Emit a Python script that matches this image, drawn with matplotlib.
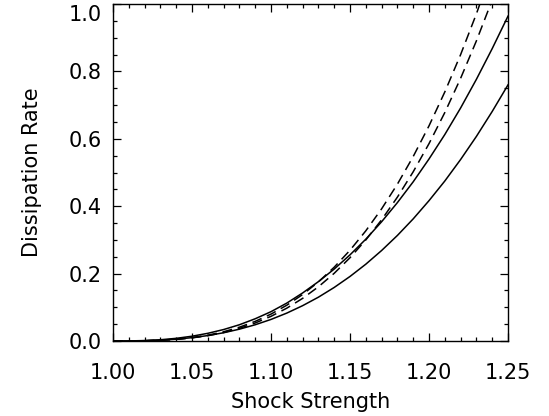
import numpy as np
import matplotlib
matplotlib.use("Agg")
import matplotlib.pyplot as plt
from matplotlib.ticker import MultipleLocator
from matplotlib.transforms import ScaledTranslation

# Shock strength samples
shock = [1.00, 1.01, 1.02, 1.03, 1.04, 1.05, 1.06, 1.07, 1.08, 1.09, 1.10,
         1.11, 1.12, 1.13, 1.14, 1.15, 1.16, 1.17, 1.18, 1.19, 1.20,
         1.21, 1.22, 1.23, 1.24, 1.25]

# Solid curves
solid_upper = [0.0, 0.0002, 0.0013, 0.0037, 0.0079, 0.0142, 0.0228, 0.0340, 0.0482,
               0.0660, 0.0870, 0.1125, 0.1425, 0.1761, 0.2135, 0.2556, 0.3021,
               0.3538, 0.4107, 0.4724, 0.5401, 0.6126, 0.6914, 0.7765, 0.8676, 0.964]
solid_lower = [0.0, 0.0001, 0.0008, 0.0025, 0.0054, 0.0099, 0.0161, 0.0245, 0.0351,
               0.0482, 0.0640, 0.0828, 0.1048, 0.1300, 0.1589, 0.1915, 0.2279,
               0.2685, 0.3132, 0.3624, 0.4164, 0.4747, 0.5385, 0.6071, 0.6811, 0.760]

# Dashed curves
dashed_a = [0.0, 0.0001, 0.0006, 0.0022, 0.0051, 0.0100, 0.0172, 0.0274, 0.0409,
            0.0582, 0.0798, 0.1062, 0.1379, 0.1753, 0.2190, 0.2693, 0.3269,
            0.3921, 0.4654, 0.5474, 0.6384, 0.7390, 0.8497, 0.9709, 1.1032, 1.2469]
dashed_b = [0.0, 0.0001, 0.0006, 0.0020, 0.0047, 0.0092, 0.0158, 0.0251, 0.0375,
            0.0534, 0.0732, 0.0974, 0.1265, 0.1608, 0.2009, 0.2471, 0.2998,
            0.3596, 0.4269, 0.5021, 0.5856, 0.6779, 0.7794, 0.8906, 1.0119, 1.1438]

xticks = [1.00, 1.05, 1.10, 1.15, 1.20, 1.25]
yticks = [0.0, 0.2, 0.4, 0.6, 0.8, 1.0]

plt.rcParams['font.family'] = ['DejaVu Sans']

fig = plt.figure(figsize=(5.49, 4.16), dpi=100)
ax = fig.add_axes([113/549, 1 - 341/416, (508-113)/549, (341-4)/416])

lw = 1.1
ax.plot(shock, solid_upper, color='black', lw=lw)
ax.plot(shock, solid_lower, color='black', lw=lw)
la, = ax.plot(shock, dashed_a, color='black', lw=lw)
lb, = ax.plot(shock, dashed_b, color='black', lw=lw)
la.set_dashes([6.5, 3.8])
lb.set_dashes([6.5, 3.8])

ax.set_xlim(1.0, 1.25)
ax.set_ylim(0.0, 1.0)
ax.set_xticks(xticks)
ax.set_xticklabels([f"{t:.2f}" for t in xticks])
ax.set_yticks(yticks)
ax.set_yticklabels([f"{t:.1f}" for t in yticks])
ax.xaxis.set_minor_locator(MultipleLocator(0.01))
ax.yaxis.set_minor_locator(MultipleLocator(0.05))

ax.tick_params(which='both', direction='in', top=True, right=True, width=0.9, color='black')
ax.tick_params(which='major', length=6)
ax.tick_params(which='minor', length=3)
ax.tick_params(axis='x', which='major', pad=16, labelsize=15)
ax.tick_params(axis='y', which='major', pad=8, labelsize=15)

# top y label sits inside the figure (as in reference)
top_lbl = ax.get_yticklabels()[-1]
top_lbl.set_transform(top_lbl.get_transform() + ScaledTranslation(0, -9/100, fig.dpi_scale_trans))

for sp in ax.spines.values():
    sp.set_linewidth(1.0)

ax.set_xlabel("Shock Strength", fontsize=15, labelpad=6)
ax.set_ylabel("Dissipation Rate", fontsize=15, labelpad=19.5)

fig.savefig("out.png", dpi=100)
